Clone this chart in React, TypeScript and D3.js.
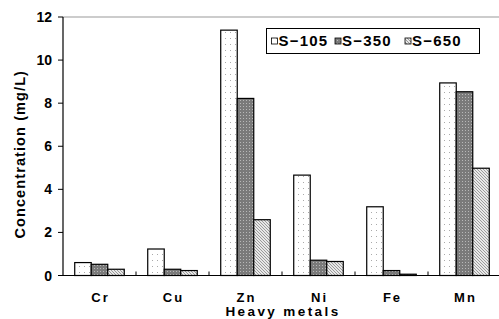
import { useEffect, useRef } from 'react';
import * as d3 from 'd3';

const metals = ['Cr', 'Cu', 'Zn', 'Ni', 'Fe', 'Mn'];
const seriesNames = ['S-105', 'S-350', 'S-650'];
const s105 = [0.6, 1.23, 11.39, 4.66, 3.19, 8.94];
const s350 = [0.52, 0.29, 8.22, 0.71, 0.23, 8.53];
const s650 = [0.29, 0.23, 2.59, 0.65, 0.06, 4.98];
const yTicks = [0, 2, 4, 6, 8, 10, 12];

const [width, height] = [499, 319];
const [left, right, top, bottom] = [63, 501, 17, 275.5];
const font = '"Liberation Sans", Arial, sans-serif';

function App() {
    const node = useRef<SVGSVGElement>(null);
    useEffect(() => {
        if (!node.current) return;
        const svg = d3.select(node.current);
        svg.selectAll('*').remove();

        /** patterns */
        const defs = svg.append('defs');
        const p1 = defs.append('pattern').attr('id', 'p105').attr('patternUnits', 'userSpaceOnUse')
            .attr('width', 5).attr('height', 6);
        p1.append('rect').attr('width', 5).attr('height', 6).attr('fill', '#fff');
        p1.append('rect').attr('x', 1).attr('y', 2).attr('width', 1).attr('height', 1).attr('fill', '#aaa');
        const p2 = defs.append('pattern').attr('id', 'p350').attr('patternUnits', 'userSpaceOnUse')
            .attr('width', 3).attr('height', 3);
        p2.append('rect').attr('width', 3).attr('height', 3).attr('fill', '#7a7a7a');
        p2.append('rect').attr('x', 1).attr('y', 1).attr('width', 1).attr('height', 1).attr('fill', '#b8b8b8');
        const p3 = defs.append('pattern').attr('id', 'p650').attr('patternUnits', 'userSpaceOnUse')
            .attr('width', 3).attr('height', 3);
        p3.append('rect').attr('width', 3).attr('height', 3).attr('fill', '#e8e8e8');
        p3.append('path').attr('d', 'M0,0 L3,3 M-1,2 L1,4 M2,-1 L4,1').attr('stroke', '#888').attr('stroke-width', 0.8);
        const fills = ['url(#p105)', 'url(#p350)', 'url(#p650)'];

        /** scales */
        const x = d3.scaleBand().domain(metals).range([left, right]).padding(0);
        const xs = d3.scaleBand().domain(seriesNames).range([0, x.bandwidth()]).paddingInner(0).paddingOuter(0.71);
        const y = d3.scaleLinear().domain([0, 12]).range([bottom, top]);

        /** frame top */
        svg.append('line').attr('x1', left).attr('x2', right).attr('y1', top).attr('y2', top)
            .attr('stroke', '#999').attr('stroke-width', 1.2);

        /** bars */
        const rows = metals.map((m, i) => ({ m, vals: [s105[i], s350[i], s650[i]] }));
        const g = svg.selectAll('g.grp').data(rows).enter().append('g')
            .attr('transform', d => `translate(${x(d.m)},0)`);
        g.selectAll('rect').data(d => d.vals.map((v, k) => ({ v, k })))
            .enter().append('rect')
            .attr('x', d => xs(seriesNames[d.k])!)
            .attr('y', d => y(d.v))
            .attr('width', xs.bandwidth())
            .attr('height', d => bottom - y(d.v))
            .attr('fill', d => fills[d.k])
            .attr('stroke', '#000').attr('stroke-width', 1.2);

        /** axes */
        svg.append('line').attr('x1', left).attr('x2', left).attr('y1', top).attr('y2', bottom)
            .attr('stroke', '#000').attr('stroke-width', 1.2);
        svg.append('line').attr('x1', left).attr('x2', right).attr('y1', bottom).attr('y2', bottom)
            .attr('stroke', '#000').attr('stroke-width', 1.2);
        yTicks.forEach(t => {
            svg.append('line').attr('x1', left - 5).attr('x2', left).attr('y1', y(t)).attr('y2', y(t))
                .attr('stroke', '#000').attr('stroke-width', 1);
            svg.append('text').attr('x', 52).attr('y', y(t)).attr('dy', '0.36em')
                .attr('text-anchor', 'end').attr('font-family', font).attr('font-weight', 'bold')
                .attr('font-size', 14).text(t);
        });
        metals.slice(1).forEach(m => {
            svg.append('line').attr('x1', x(m)!).attr('x2', x(m)!).attr('y1', bottom - 4).attr('y2', bottom)
                .attr('stroke', '#000').attr('stroke-width', 1);
        });
        metals.forEach(m => {
            svg.append('text').attr('x', x(m)! + x.bandwidth() / 2 + 1).attr('y', 297).attr('dy', '0.36em')
                .attr('text-anchor', 'middle').attr('font-family', font).attr('font-weight', 'bold')
                .attr('font-size', 13).attr('letter-spacing', 2).text(m);
        });
        svg.append('text').attr('x', (left + right) / 2 + 1).attr('y', 311).attr('dy', '0.36em')
            .attr('text-anchor', 'middle').attr('font-family', font).attr('font-weight', 'bold')
            .attr('font-size', 13.5).attr('letter-spacing', 2.4).text('Heavy metals');
        svg.append('text').attr('transform', `translate(20,${(top + bottom) / 2 + 8}) rotate(-90)`)
            .attr('dy', '0.36em').attr('text-anchor', 'middle').attr('font-family', font)
            .attr('font-weight', 'bold').attr('font-size', 14.5).attr('letter-spacing', 1.1)
            .text('Concentration (mg/L)');

        /** legend */
        svg.append('rect').attr('x', 266.5).attr('y', 28.5).attr('width', 213).attr('height', 25)
            .attr('fill', '#fff').attr('stroke', '#000').attr('stroke-width', 1);
        const lx = [271.5, 335, 405];
        seriesNames.forEach((s, k) => {
            svg.append('rect').attr('x', lx[k]).attr('y', 38).attr('width', 6).attr('height', 6)
                .attr('fill', fills[k]).attr('stroke', '#000').attr('stroke-width', 0.8);
            svg.append('text').attr('x', lx[k] + 7).attr('y', 41).attr('dy', '0.36em')
                .attr('font-family', font).attr('font-weight', 'bold').attr('font-size', 15)
                .attr('letter-spacing', 1.2).text(s.replace('-', '\u2212'));
        });
    }, [node]);
    return (
        <svg ref={node} width={width} height={height}
            style={{ position: 'absolute', left: 0, top: 0, background: '#fff' }} />
    );
}

export default App;
